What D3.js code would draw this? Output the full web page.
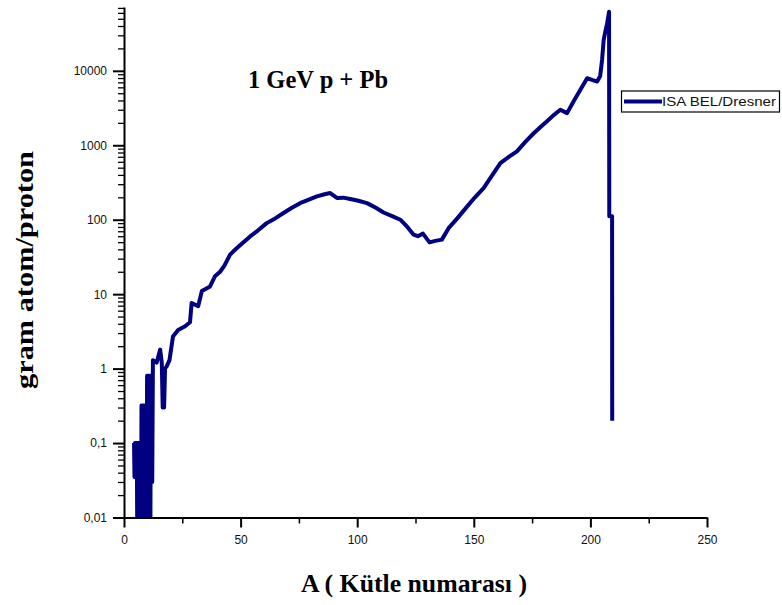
<!DOCTYPE html>
<html>
<head>
<meta charset="utf-8">
<script src="https://cdn.jsdelivr.net/npm/d3@7"></script>
<style>
  body { margin: 0; background: #fff; }
  svg { display: block; }
  .tick text { font-family: Arial, "Liberation Sans", sans-serif; font-size: 12px; fill: #111; }
</style>
</head>
<body>
<div id="chart"></div>
<script>
// mass number A and yield (gram atom / proton)
var massNumber = [4.3, 4.5, 4.7, 4.9, 5.1, 5.3, 5.5, 5.7, 5.9, 6.1, 6.3, 6.5, 6.7, 6.9, 7.1, 7.3, 7.5, 7.7, 7.9, 8.1,
  8.3, 8.5, 8.7, 8.9, 9.1, 9.3, 9.5, 9.7, 9.9, 10.1, 10.3, 10.5, 10.7, 10.9, 11.1, 11.3, 11.5, 11.7, 11.9, 12.1,
  12.4, 14, 15.5, 16.2, 16.6, 17.2, 17.6, 18.3, 19.5, 21, 23.2, 26.2, 28.3, 29, 31.8, 33.4, 36.9, 39, 41.2, 43,
  45.5, 46.9, 50, 54.1, 57.5, 61.2, 65, 68.4, 72, 75.5, 79, 82.7, 86, 88.4, 91.3, 94, 97, 100.5, 104.2, 108,
  111.3, 115, 118.5, 121.5, 124.2, 126, 128.2, 131, 133.5, 136.3, 139.2, 143, 147.1, 150.5, 154.2, 158, 161.4, 165, 168.5, 172,
  175.7, 178.5, 181.4, 184, 187.1, 190, 193, 195.7, 198.6, 201, 202.9, 204.2, 205, 205.7, 206.5, 207.2, 208.0, 208.1, 209.3, 209.35];
var yieldValues = [0.1, 0.035, 0.1, 0.035, 0.1, 0.035, 0.1, 0.004, 0.1, 0.004, 0.1, 0.004, 0.1, 0.004, 0.1, 0.004, 0.32, 0.004, 0.32, 0.004,
  0.32, 0.004, 0.32, 0.004, 0.32, 0.004, 0.32, 0.004, 0.8, 0.004, 0.8, 0.004, 0.8, 0.004, 0.8, 0.004, 0.8, 0.03, 0.8, 0.03,
  1.3, 1.2, 1.8, 1.2, 0.3, 0.3, 1.0, 1.07, 1.3, 2.7, 3.3, 3.7, 4.2, 7.6, 6.9, 11, 12.7, 17.4, 20, 24,
  34, 37.6, 46, 59.7, 72, 90, 105, 123, 145, 167, 185, 206, 220, 228, 196, 198, 190, 180, 167, 145,
  125, 112, 100, 80, 63, 60, 65, 49.6, 52, 54, 77, 105, 150, 200, 266, 400, 577, 700, 830, 1100,
  1450, 1750, 2100, 2500, 3000, 2700, 4000, 5560, 7960, 7500, 7180, 8500, 14000, 26000, 35000, 43700, 62000, 111, 111, 0.2];

var xTickValues = [0, 50, 100, 150, 200, 250];
var xMinorTicks = [25, 75, 125, 175, 225];
var yTickValues = [0.01, 0.1, 1, 10, 100, 1000, 10000];
var yTickLabels = ["0,01", "0,1", "1", "10", "100", "1000", "10000"];

var seriesName = "ISA BEL/Dresner";
var titleText = "1 GeV p + Pb";

var width = 782, height = 605;
var svg = d3.select("#chart").append("svg")
  .attr("width", width)
  .attr("height", height);

var x = d3.scaleLinear().domain([0, 250]).range([124, 707]);
var y = d3.scaleLog().domain([0.01, 72000]).range([517.5, 7]);

var points = massNumber.map(function(a, i) { return [a, yieldValues[i]]; });

// clip to the plot area so values below 0.01 stop at the axis
svg.append("clipPath").attr("id", "plotClip")
  .append("rect")
  .attr("x", x(0)).attr("y", 0)
  .attr("width", x(250) - x(0)).attr("height", y(0.01));

var line = d3.line()
  .x(function(d) { return x(d[0]); })
  .y(function(d) { return y(d[1]); });

svg.append("path")
  .datum(points)
  .attr("clip-path", "url(#plotClip)")
  .attr("fill", "none")
  .attr("stroke", "#000080")
  .attr("stroke-width", 4)
  .attr("stroke-linejoin", "round")
  .attr("d", line);

// minor y ticks (2..9 in each decade)
var yMinor = [];
for (var e = -2; e <= 4; e++) {
  for (var m = 2; m <= 9; m++) {
    var v = m * Math.pow(10, e);
    if (v <= 72000) yMinor.push(v);
  }
}
svg.append("g")
  .attr("transform", "translate(" + x(0) + ",0)")
  .call(d3.axisLeft(y).tickValues(yMinor).tickSize(6).tickFormat(""))
  .call(function(g) { g.select(".domain").remove(); g.selectAll("line").attr("stroke-width", 1.3); });

// major y axis
svg.append("g")
  .attr("transform", "translate(" + x(0) + ",0)")
  .call(d3.axisLeft(y).tickValues(yTickValues).tickSize(11).tickSizeOuter(0).tickPadding(6)
    .tickFormat(function(d, i) { return yTickLabels[i]; }))
  .call(function(g) { g.selectAll("line, path").attr("stroke", "#000").attr("stroke-width", 2); });

// x axis
svg.append("g")
  .attr("transform", "translate(0," + y(0.01) + ")")
  .call(d3.axisBottom(x).tickValues(xMinorTicks).tickSize(6).tickFormat(""))
  .call(function(g) { g.select(".domain").remove(); g.selectAll("line").attr("stroke-width", 1.5); });

svg.append("g")
  .attr("transform", "translate(0," + y(0.01) + ")")
  .call(d3.axisBottom(x).tickValues(xTickValues).tickSize(10).tickSizeOuter(0).tickPadding(8))
  .call(function(g) { g.selectAll("line, path").attr("stroke", "#000").attr("stroke-width", 2); });

// title inside the plot
svg.append("text")
  .attr("x", 318).attr("y", 88)
  .attr("text-anchor", "middle")
  .attr("font-family", "'Liberation Serif', 'Times New Roman', serif")
  .attr("font-weight", "bold")
  .attr("font-size", 25)
  .attr("textLength", 140)
  .attr("lengthAdjust", "spacingAndGlyphs")
  .text(titleText);

// axis titles
svg.append("text")
  .attr("x", 414).attr("y", 592)
  .attr("text-anchor", "middle")
  .attr("font-family", "'Liberation Serif', 'Times New Roman', serif")
  .attr("font-weight", "bold")
  .attr("font-size", 25)
  .attr("textLength", 226)
  .attr("lengthAdjust", "spacingAndGlyphs")
  .text("A ( Kütle numarası )");

svg.append("text")
  .attr("transform", "translate(33,270) rotate(-90)")
  .attr("text-anchor", "middle")
  .attr("font-family", "'Liberation Serif', 'Times New Roman', serif")
  .attr("font-weight", "bold")
  .attr("font-size", 26)
  .attr("textLength", 238)
  .attr("lengthAdjust", "spacingAndGlyphs")
  .text("gram atom/proton");

// legend
var legend = svg.append("g");
legend.append("rect")
  .attr("x", 621.5).attr("y", 91)
  .attr("width", 158).attr("height", 21)
  .attr("fill", "#fff")
  .attr("stroke", "#000")
  .attr("stroke-width", 1.2);
legend.append("line")
  .attr("x1", 624).attr("x2", 662)
  .attr("y1", 101.5).attr("y2", 101.5)
  .attr("stroke", "#000080")
  .attr("stroke-width", 4);
legend.append("text")
  .attr("x", 662).attr("y", 106)
  .attr("font-family", "Arial, 'Liberation Sans', sans-serif")
  .attr("font-size", 12.5)
  .attr("textLength", 114)
  .attr("lengthAdjust", "spacingAndGlyphs")
  .attr("fill", "#111")
  .text(seriesName);
</script>
</body>
</html>
